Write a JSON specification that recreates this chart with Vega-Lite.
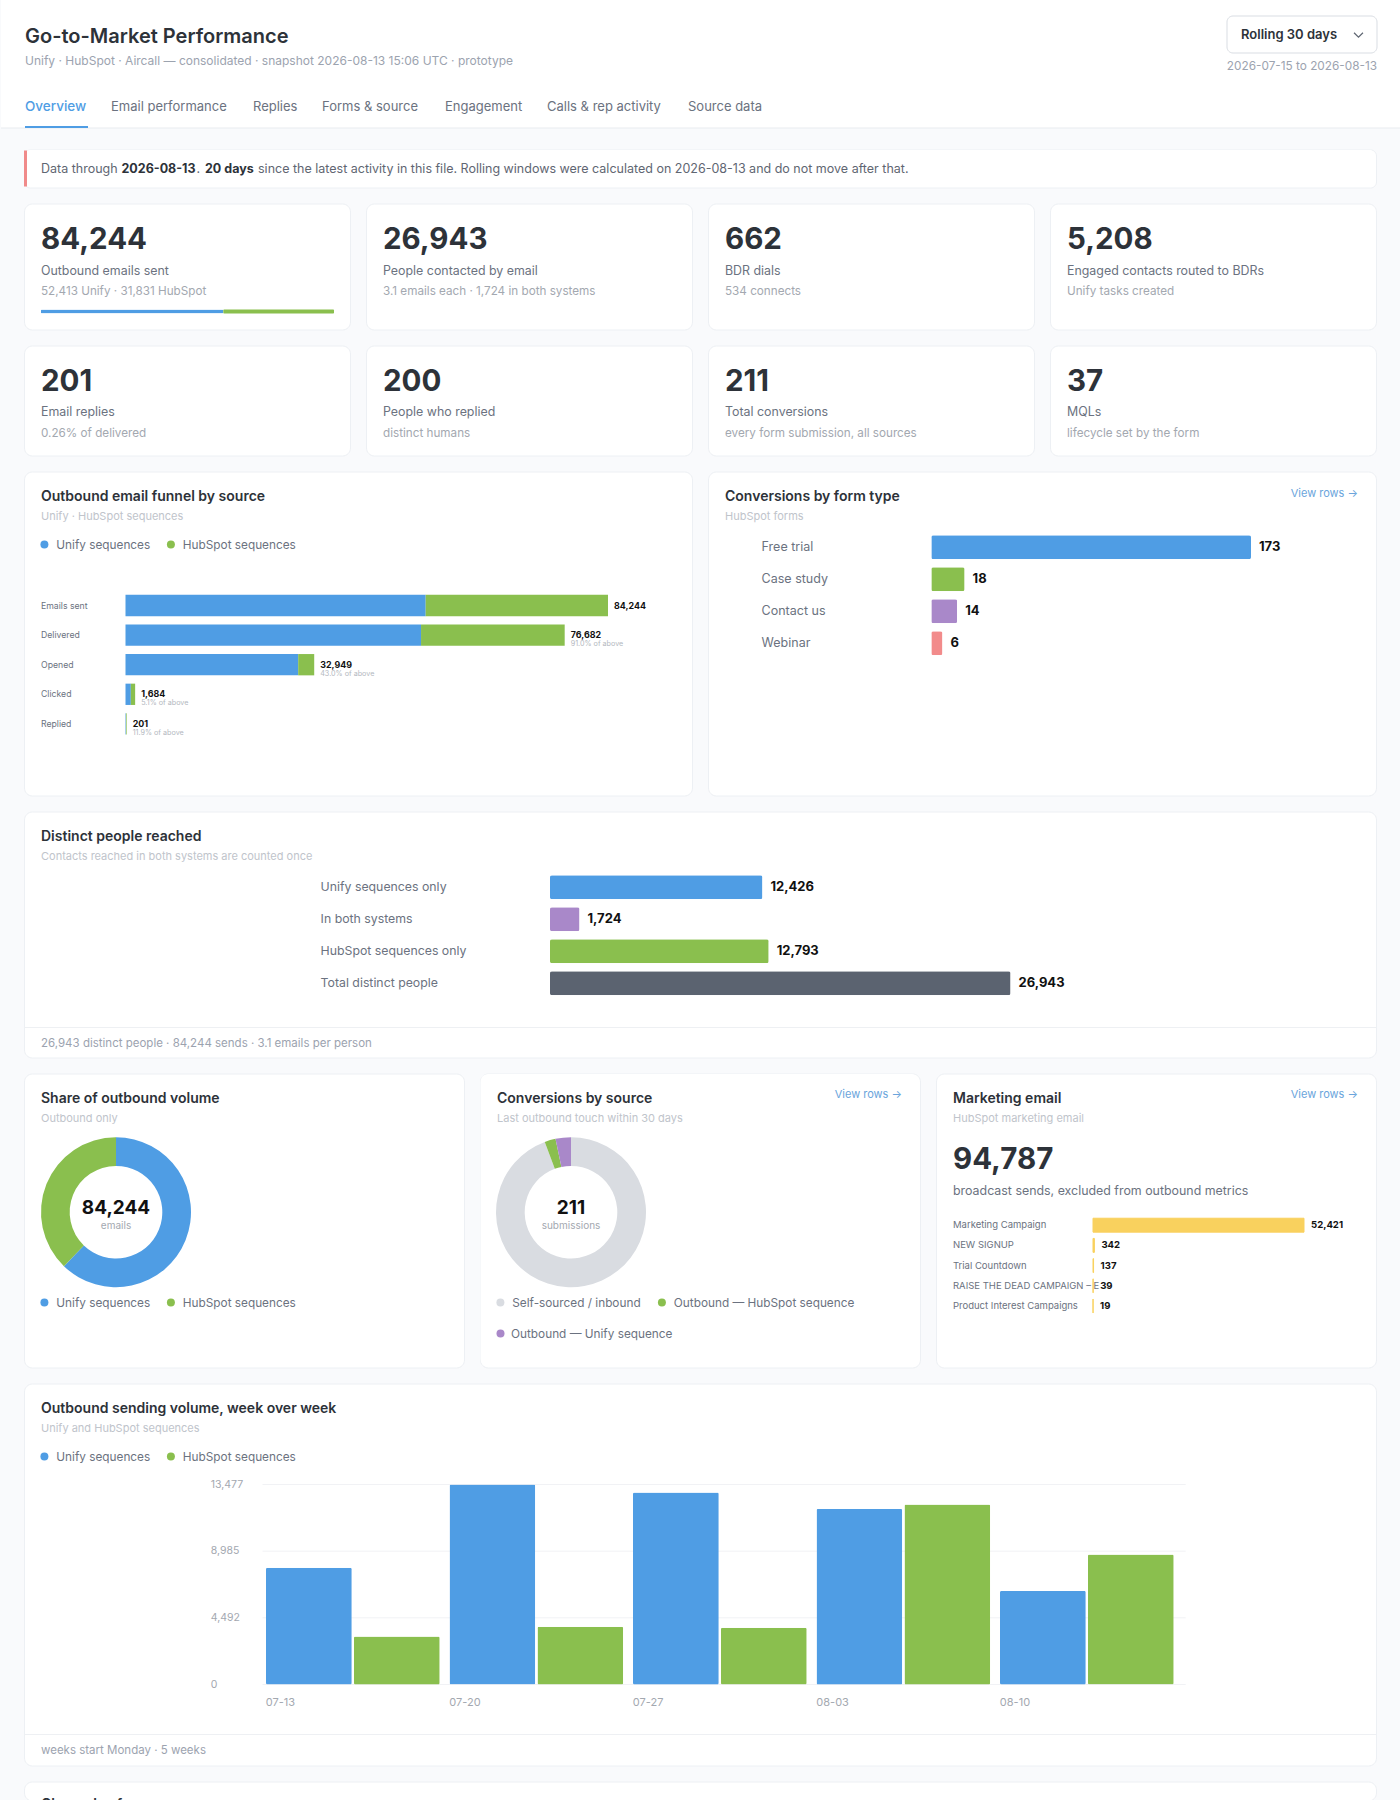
{
"$schema":"https://vega.github.io/schema/vega-lite/v6.json",
"padding":0,
"background":"#f9fafc",
"spacing":19.5,
"resolve":{"scale":{"color":"independent","theta":"independent"}},
"datasets":{
"kpi":[
{"metric":"Outbound emails sent","value":"84,244","note":"52,413 Unify · 31,831 HubSpot","unify":52413,"total":84244},
{"metric":"People contacted by email","value":"26,943","note":"3.1 emails each · 1,724 in both systems"},
{"metric":"BDR dials","value":"662","note":"534 connects"},
{"metric":"Engaged contacts routed to BDRs","value":"5,208","note":"Unify tasks created"},
{"metric":"Email replies","value":"201","note":"0.26% of delivered"},
{"metric":"People who replied","value":"200","note":"distinct humans"},
{"metric":"Total conversions","value":"211","note":"every form submission, all sources"},
{"metric":"MQLs","value":"37","note":"lifecycle set by the form"}],
"funnel":[
{"stage":"Emails sent","source":"Unify sequences","rank":1,"count":52413},
{"stage":"Emails sent","source":"HubSpot sequences","rank":2,"count":31831},
{"stage":"Delivered","source":"Unify sequences","rank":1,"count":51600},
{"stage":"Delivered","source":"HubSpot sequences","rank":2,"count":25082},
{"stage":"Opened","source":"Unify sequences","rank":1,"count":30150},
{"stage":"Opened","source":"HubSpot sequences","rank":2,"count":2799},
{"stage":"Clicked","source":"Unify sequences","rank":1,"count":930},
{"stage":"Clicked","source":"HubSpot sequences","rank":2,"count":754},
{"stage":"Replied","source":"Unify sequences","rank":1,"count":80},
{"stage":"Replied","source":"HubSpot sequences","rank":2,"count":121}],
"funnelTotals":[
{"stage":"Emails sent","total":84244,"note":""},
{"stage":"Delivered","total":76682,"note":"91.0% of above"},
{"stage":"Opened","total":32949,"note":"43.0% of above"},
{"stage":"Clicked","total":1684,"note":"5.1% of above"},
{"stage":"Replied","total":201,"note":"11.9% of above"}],
"forms":[{"form":"Free trial","count":173},{"form":"Case study","count":18},{"form":"Contact us","count":14},{"form":"Webinar","count":6}],
"people":[{"group":"Unify sequences only","count":12426},{"group":"In both systems","count":1724},{"group":"HubSpot sequences only","count":12793},{"group":"Total distinct people","count":26943}],
"share":[{"source":"Unify sequences","rank":1,"count":52413},{"source":"HubSpot sequences","rank":2,"count":31831}],
"bySource":[{"source":"Self-sourced / inbound","rank":1,"count":199},{"source":"Outbound — HubSpot sequence","rank":2,"count":5},{"source":"Outbound — Unify sequence","rank":3,"count":7}],
"marketing":[{"campaign":"Marketing Campaign","sends":52421},{"campaign":"NEW SIGNUP","sends":342},{"campaign":"Trial Countdown","sends":137},{"campaign":"RAISE THE DEAD CAMPAIGN – E","sends":39},{"campaign":"Product Interest Campaigns","sends":19}],
"weekly":[
{"week":"07-13","source":"Unify sequences","emails":7860},{"week":"07-13","source":"HubSpot sequences","emails":3235},
{"week":"07-20","source":"Unify sequences","emails":13477},{"week":"07-20","source":"HubSpot sequences","emails":3886},
{"week":"07-27","source":"Unify sequences","emails":12940},{"week":"07-27","source":"HubSpot sequences","emails":3819},
{"week":"08-03","source":"Unify sequences","emails":11830},{"week":"08-03","source":"HubSpot sequences","emails":12131},
{"week":"08-10","source":"Unify sequences","emails":6306},{"week":"08-10","source":"HubSpot sequences","emails":8760}],
"ticks":[{"tick":0},{"tick":4492},{"tick":8985},{"tick":13477}],
"one":[{"n":1}]
},
"vconcat":[
{"width":1400,"height":128,"view":{"fill":"#fff","stroke":null,"cornerRadius":0},
"title":{"text":"Go-to-Market Performance","subtitle":"Unify · HubSpot · Aircall — consolidated · snapshot 2026-08-13 15:06 UTC · prototype","dx":24,"offset":-67,"fontSize":20,"subtitleFontSize":12,"subtitleColor":"#9ca3af","subtitlePadding":9},
"layer":[
{"data":{"name":"one"},"mark":{"type":"rule","x":0,"x2":1400,"stroke":"#e8ebef"},"encoding":{"y":{"value":128}}},
{"data":{"name":"one"},"mark":{"type":"rule","x":24,"x2":87,"stroke":"#4f9de4","strokeWidth":2},"encoding":{"y":{"value":127}}},
{"data":{"values":[{"tab":"Overview"}]},"mark":{"type":"text","style":"tabOn","y":106.5},"encoding":{"x":{"datum":0,"type":"quantitative","scale":{"domain":[0,1],"range":[24,25],"nice":false},"axis":null},"text":{"field":"tab"}}},
{"data":{"values":[{"tab":"Email performance"}]},"mark":{"type":"text","style":"tab","x":110,"y":106.5},"encoding":{"text":{"field":"tab"}}},
{"data":{"values":[{"tab":"Replies"}]},"mark":{"type":"text","style":"tab","x":252,"y":106.5},"encoding":{"text":{"field":"tab"}}},
{"data":{"values":[{"tab":"Forms & source"}]},"mark":{"type":"text","style":"tab","x":321,"y":106.5},"encoding":{"text":{"field":"tab"}}},
{"data":{"values":[{"tab":"Engagement"}]},"mark":{"type":"text","style":"tab","x":444,"y":106.5},"encoding":{"text":{"field":"tab"}}},
{"data":{"values":[{"tab":"Calls & rep activity"}]},"mark":{"type":"text","style":"tab","x":546,"y":106.5},"encoding":{"text":{"field":"tab"}}},
{"data":{"values":[{"tab":"Source data"}]},"mark":{"type":"text","style":"tab","x":687,"y":106.5},"encoding":{"text":{"field":"tab"}}},
{"data":{"name":"one"},"mark":{"type":"rect","x":1226,"x2":1376,"y":16,"y2":53,"fill":"#fff","stroke":"#d9dde3","cornerRadius":6},"encoding":{}},
{"data":{"values":[{"t":"Rolling 30 days"}]},"mark":{"type":"text","x":1240,"y":35,"fontSize":13,"fontWeight":600,"fill":"#2d3239"},"encoding":{"text":{"field":"t"}}},
{"data":{"name":"one"},"mark":{"type":"point","shape":"M-1,-0.5L0,0.5L1,-0.5","filled":false,"opacity":1,"stroke":"#5f6672","strokeWidth":1.2,"size":80,"x":1357.5,"y":35},"encoding":{}},
{"data":{"values":[{"t":"2026-07-15 to 2026-08-13"}]},"mark":{"type":"text","x":1376,"y":66,"align":"right","fontSize":11.8,"fill":"#9ca3af"},"encoding":{"text":{"field":"t"}}}
]},
{"spacing":14,"resolve":{"scale":{"color":"independent","theta":"independent"}},"vconcat":[
{"spacing":14,"hconcat":[
{"width":8,"height":1,"view":{"fill":null,"stroke":null},"data":{"values":[]},"mark":"text"},
{"width":1352,"height":38,"view":{"cornerRadius":6},"layer":[
{"data":{"name":"one"},"mark":{"type":"rect","x":0.5,"x2":1351.5,"y":0.5,"y2":37.5,"fill":"#fff","cornerRadius":6},"encoding":{}},
{"data":{"name":"one"},"mark":{"type":"rule","y":1,"y2":37,"stroke":"#f08a8a","strokeWidth":3},"encoding":{"x":{"value":1.5}}},
{"data":{"values":[{"t":"Data through"}]},"mark":{"type":"text","style":"banner","y":19},"encoding":{"x":{"datum":0,"type":"quantitative","scale":{"domain":[0,1],"range":[17,18],"nice":false},"axis":null},"text":{"field":"t"}}},
{"data":{"values":[{"t":"2026-08-13"}]},"mark":{"type":"text","style":"bannerBold","x":97.5,"y":19},"encoding":{"text":{"field":"t"}}},
{"data":{"values":[{"t":"."}]},"mark":{"type":"text","style":"banner","x":172.5,"y":19},"encoding":{"text":{"field":"t"}}},
{"data":{"values":[{"t":"20 days"}]},"mark":{"type":"text","style":"bannerBold","x":181,"y":19},"encoding":{"text":{"field":"t"}}},
{"data":{"values":[{"t":"since the latest activity in this file. Rolling windows were calculated on 2026-08-13 and do not move after that."}]},"mark":{"type":"text","style":"banner","x":234,"y":19},"encoding":{"text":{"field":"t"}}}
]}
]},
{"spacing":14,"hconcat":[
{"width":8,"height":1,"view":{"fill":null,"stroke":null},"data":{"values":[]},"mark":"text"},
{"width":326,"height":126,"data":{"name":"kpi"},"transform":[{"filter":"datum.metric==='Outbound emails sent'"}],"layer":[
{"mark":{"type":"text","style":"kpiValue","x":17,"y":36},"encoding":{"text":{"field":"value"}}},
{"mark":{"type":"text","style":"kpiLabel","x":17,"y":67},"encoding":{"text":{"field":"metric"}}},
{"mark":{"type":"text","style":"kpiNote","x":17,"y":87},"encoding":{"text":{"field":"note"}}},
{"mark":{"type":"bar","fill":"#4f9de4","cornerRadius":1},"encoding":{"x":{"field":"unify","type":"quantitative","scale":{"domain":[0,84244],"range":[17,310],"nice":false},"axis":null},"y":{"value":108},"size":{"value":4}}},
{"mark":{"type":"bar","fill":"#8abf4e","cornerRadius":1},"encoding":{"x":{"field":"unify","type":"quantitative","axis":null},"x2":{"field":"total"},"y":{"value":108},"size":{"value":4}}}
]},
{"width":326,"height":126,"data":{"name":"kpi"},"transform":[{"filter":"datum.metric==='People contacted by email'"}],"encoding":{"x":{"datum":0,"type":"quantitative","scale":{"domain":[0,1],"range":[17,18],"nice":false},"axis":null}},"layer":[
{"mark":{"type":"text","style":"kpiValue","y":36},"encoding":{"text":{"field":"value"}}},
{"mark":{"type":"text","style":"kpiLabel","y":67},"encoding":{"text":{"field":"metric"}}},
{"mark":{"type":"text","style":"kpiNote","y":87},"encoding":{"text":{"field":"note"}}}
]},
{"width":326,"height":126,"data":{"name":"kpi"},"transform":[{"filter":"datum.metric==='BDR dials'"}],"encoding":{"x":{"datum":0,"type":"quantitative","scale":{"domain":[0,1],"range":[17,18],"nice":false},"axis":null}},"layer":[
{"mark":{"type":"text","style":"kpiValue","y":36},"encoding":{"text":{"field":"value"}}},
{"mark":{"type":"text","style":"kpiLabel","y":67},"encoding":{"text":{"field":"metric"}}},
{"mark":{"type":"text","style":"kpiNote","y":87},"encoding":{"text":{"field":"note"}}}
]},
{"width":326,"height":126,"data":{"name":"kpi"},"transform":[{"filter":"datum.metric==='Engaged contacts routed to BDRs'"}],"encoding":{"x":{"datum":0,"type":"quantitative","scale":{"domain":[0,1],"range":[17,18],"nice":false},"axis":null}},"layer":[
{"mark":{"type":"text","style":"kpiValue","y":36},"encoding":{"text":{"field":"value"}}},
{"mark":{"type":"text","style":"kpiLabel","y":67},"encoding":{"text":{"field":"metric"}}},
{"mark":{"type":"text","style":"kpiNote","y":87},"encoding":{"text":{"field":"note"}}}
]}
]},
{"spacing":14,"hconcat":[
{"width":8,"height":1,"view":{"fill":null,"stroke":null},"data":{"values":[]},"mark":"text"},
{"width":326,"height":110,"data":{"name":"kpi"},"transform":[{"filter":"datum.metric==='Email replies'"}],"encoding":{"x":{"datum":0,"type":"quantitative","scale":{"domain":[0,1],"range":[17,18],"nice":false},"axis":null}},"layer":[
{"mark":{"type":"text","style":"kpiValue","y":36.5},"encoding":{"text":{"field":"value"}}},
{"mark":{"type":"text","style":"kpiLabel","y":66},"encoding":{"text":{"field":"metric"}}},
{"mark":{"type":"text","style":"kpiNote","y":87},"encoding":{"text":{"field":"note"}}}
]},
{"width":326,"height":110,"data":{"name":"kpi"},"transform":[{"filter":"datum.metric==='People who replied'"}],"encoding":{"x":{"datum":0,"type":"quantitative","scale":{"domain":[0,1],"range":[17,18],"nice":false},"axis":null}},"layer":[
{"mark":{"type":"text","style":"kpiValue","y":36.5},"encoding":{"text":{"field":"value"}}},
{"mark":{"type":"text","style":"kpiLabel","y":66},"encoding":{"text":{"field":"metric"}}},
{"mark":{"type":"text","style":"kpiNote","y":87},"encoding":{"text":{"field":"note"}}}
]},
{"width":326,"height":110,"data":{"name":"kpi"},"transform":[{"filter":"datum.metric==='Total conversions'"}],"encoding":{"x":{"datum":0,"type":"quantitative","scale":{"domain":[0,1],"range":[17,18],"nice":false},"axis":null}},"layer":[
{"mark":{"type":"text","style":"kpiValue","y":36.5},"encoding":{"text":{"field":"value"}}},
{"mark":{"type":"text","style":"kpiLabel","y":66},"encoding":{"text":{"field":"metric"}}},
{"mark":{"type":"text","style":"kpiNote","y":87},"encoding":{"text":{"field":"note"}}}
]},
{"width":326,"height":110,"data":{"name":"kpi"},"transform":[{"filter":"datum.metric==='MQLs'"}],"encoding":{"x":{"datum":0,"type":"quantitative","scale":{"domain":[0,1],"range":[17,18],"nice":false},"axis":null}},"layer":[
{"mark":{"type":"text","style":"kpiValue","y":36.5},"encoding":{"text":{"field":"value"}}},
{"mark":{"type":"text","style":"kpiLabel","y":66},"encoding":{"text":{"field":"metric"}}},
{"mark":{"type":"text","style":"kpiNote","y":87},"encoding":{"text":{"field":"note"}}}
]}
]},
{"spacing":14,"resolve":{"scale":{"color":"independent"}},"hconcat":[
{"width":8,"height":1,"view":{"fill":null,"stroke":null},"data":{"values":[]},"mark":"text"},
{"width":668,"height":324,"title":{"text":"Outbound email funnel by source","subtitle":"Unify · HubSpot sequences"},
"encoding":{"y":{"field":"stage","type":"nominal","sort":null,"scale":{"domain":["Emails sent","Delivered","Opened","Clicked","Replied"],"range":[119.2,267.2],"paddingInner":0.28,"paddingOuter":0.14},"axis":null}},
"layer":[
{"data":{"name":"funnel"},"mark":{"type":"bar"},"encoding":{
"x":{"field":"count","type":"quantitative","stack":"zero","scale":{"domain":[0,84244],"range":[101.5,584],"nice":false},"axis":null},
"order":{"field":"rank"},
"color":{"field":"source","type":"nominal","scale":{"domain":["Unify sequences","HubSpot sequences"],"range":["#4f9de4","#8abf4e"]},"legend":{"orient":"none","legendX":14.5,"legendY":67,"direction":"horizontal","title":null}}}},
{"data":{"name":"funnelTotals"},"mark":{"type":"text","x":17,"fontSize":8.7,"fill":"#6b7280"},"encoding":{"text":{"field":"stage"}}},
{"data":{"name":"funnelTotals"},"mark":{"type":"text","dx":6,"fontSize":8.9,"fontWeight":700,"fill":"#111"},"encoding":{"x":{"field":"total","type":"quantitative"},"text":{"field":"total","type":"quantitative","format":","}}},
{"data":{"name":"funnelTotals"},"mark":{"type":"text","dx":6,"dy":9,"fontSize":7.2,"fill":"#b3b8c0"},"encoding":{"x":{"field":"total","type":"quantitative"},"text":{"field":"note"}}}
]},
{"width":668,"height":324,"title":{"text":"Conversions by form type","subtitle":"HubSpot forms"},
"encoding":{"y":{"field":"form","type":"nominal","sort":null,"scale":{"domain":["Free trial","Case study","Contact us","Webinar"],"range":[59.7,187.7],"paddingInner":0.25,"paddingOuter":0.125},"axis":null}},
"layer":[
{"data":{"name":"forms"},"mark":{"type":"bar","cornerRadius":2},"encoding":{
"x":{"field":"count","type":"quantitative","scale":{"domain":[0,173],"range":[223.3,543],"nice":false},"axis":null},
"color":{"field":"form","type":"nominal","sort":null,"scale":{"domain":["Free trial","Case study","Contact us","Webinar"],"range":["#4f9de4","#8abf4e","#a988c9","#f28b8b"]},"legend":null}}},
{"data":{"name":"forms"},"mark":{"type":"text","x":53.6,"style":"rowLabel"},"encoding":{"text":{"field":"form"}}},
{"data":{"name":"forms"},"mark":{"type":"text","style":"rowValue","dx":8},"encoding":{"x":{"field":"count","type":"quantitative"},"text":{"field":"count","type":"quantitative"}}},
{"data":{"values":[{"t":"View rows →"}]},"mark":{"type":"text","style":"viewRows","x":650},"encoding":{"text":{"field":"t"},"y":{"value":22.5}}}
]}
]},
{"spacing":14,"resolve":{"scale":{"color":"independent"}},"hconcat":[
{"width":8,"height":1,"view":{"fill":null,"stroke":null},"data":{"values":[]},"mark":"text"},
{"width":1352,"height":246,"title":{"text":"Distinct people reached","subtitle":"Contacts reached in both systems are counted once"},
"encoding":{"y":{"field":"group","type":"nominal","sort":null,"scale":{"domain":["Unify sequences only","In both systems","HubSpot sequences only","Total distinct people"],"range":[59.7,187.7],"paddingInner":0.25,"paddingOuter":0.125},"axis":null}},
"layer":[
{"data":{"name":"people"},"mark":{"type":"bar","cornerRadius":2},"encoding":{
"x":{"field":"count","type":"quantitative","scale":{"domain":[0,26943],"range":[526,986.5],"nice":false},"axis":null},
"color":{"field":"group","type":"nominal","sort":null,"scale":{"domain":["Unify sequences only","In both systems","HubSpot sequences only","Total distinct people"],"range":["#4f9de4","#a988c9","#8abf4e","#5b6370"]},"legend":null}}},
{"data":{"name":"people"},"mark":{"type":"text","x":296.6,"fontSize":12.3,"fill":"#6b7280"},"encoding":{"text":{"field":"group"}}},
{"data":{"name":"people"},"mark":{"type":"text","style":"rowValue","dx":8},"encoding":{"x":{"field":"count","type":"quantitative"},"text":{"field":"count","type":"quantitative","format":","}}},
{"data":{"name":"one"},"mark":{"type":"rule","x":0,"x2":1352,"stroke":"#eef0f3"},"encoding":{"y":{"value":216}}},
{"data":{"values":[{"t":"26,943 distinct people · 84,244 sends · 3.1 emails per person"}]},"mark":{"type":"text","style":"footer","x":17},"encoding":{"text":{"field":"t"},"y":{"value":232.5}}}
]}
]},
{"spacing":14,"resolve":{"scale":{"color":"independent","theta":"independent"}},"hconcat":[
{"width":8,"height":1,"view":{"fill":null,"stroke":null},"data":{"values":[]},"mark":"text"},
{"width":440,"height":294,"title":{"text":"Share of outbound volume","subtitle":"Outbound only"},
"layer":[
{"data":{"name":"share"},"mark":{"type":"arc","innerRadius":46.3,"outerRadius":75},"encoding":{
"x":{"value":92},"y":{"value":138.7},
"theta":{"field":"count","type":"quantitative","stack":true},
"order":{"field":"rank"},
"color":{"field":"source","type":"nominal","scale":{"domain":["Unify sequences","HubSpot sequences"],"range":["#4f9de4","#8abf4e"]},"legend":{"orient":"none","legendX":14.5,"legendY":223,"direction":"horizontal","title":null}}}},
{"data":{"values":[{"big":"84,244","small":"emails"}]},"mark":{"type":"text","style":"donutBig","y":134},"encoding":{"x":{"datum":0,"type":"quantitative","scale":{"domain":[0,1],"range":[92,93],"nice":false},"axis":null},"text":{"field":"big"}}},
{"data":{"values":[{"big":"84,244","small":"emails"}]},"mark":{"type":"text","style":"donutSmall","y":152.7},"encoding":{"x":{"datum":0,"type":"quantitative"},"text":{"field":"small"}}}
]},
{"width":440,"height":294,"title":{"text":"Conversions by source","subtitle":"Last outbound touch within 30 days"},
"layer":[
{"data":{"name":"one"},"mark":{"type":"rect","x":0.5,"x2":439.5,"y":0.5,"y2":293.5,"fill":"#fff","cornerRadius":8},"encoding":{}},
{"data":{"name":"bySource"},"mark":{"type":"arc","innerRadius":46.3,"outerRadius":75},"encoding":{
"x":{"value":91},"y":{"value":138.7},
"theta":{"field":"count","type":"quantitative","stack":true},
"order":{"field":"rank"},
"color":{"field":"source","type":"nominal","scale":{"domain":["Self-sourced / inbound","Outbound — HubSpot sequence","Outbound — Unify sequence"],"range":["#d9dce1","#8abf4e","#a988c9"]},"legend":{"orient":"none","legendX":14.5,"legendY":223,"direction":"horizontal","values":["Self-sourced / inbound","Outbound — HubSpot sequence"],"title":null}}}},
{"data":{"values":[{"big":"211","small":"submissions"}]},"mark":{"type":"text","style":"donutBig","y":134},"encoding":{"x":{"datum":0,"type":"quantitative","scale":{"domain":[0,1],"range":[91,92],"nice":false},"axis":null},"text":{"field":"big"}}},
{"data":{"values":[{"big":"211","small":"submissions"}]},"mark":{"type":"text","style":"donutSmall","y":152.7},"encoding":{"x":{"datum":0,"type":"quantitative"},"text":{"field":"small"}}},
{"data":{"values":[{"t":"View rows →"}]},"mark":{"type":"text","style":"viewRows","x":422,"y":21.5},"encoding":{"text":{"field":"t"}}},
{"data":{"name":"bySource"},"transform":[{"filter":"datum.rank===3"}],"mark":{"type":"point","filled":true,"opacity":1,"size":64,"fill":"#a988c9","x":20.5,"y":260},"encoding":{}},
{"data":{"name":"bySource"},"transform":[{"filter":"datum.rank===3"}],"mark":{"type":"text","x":31,"y":260,"fontSize":11.8,"fill":"#6b7280"},"encoding":{"text":{"field":"source"}}}
]},
{"width":440,"height":294,"title":{"text":"Marketing email","subtitle":"HubSpot marketing email"},
"encoding":{"y":{"field":"campaign","type":"nominal","sort":null,"scale":{"domain":["Marketing Campaign","NEW SIGNUP","Trial Countdown","RAISE THE DEAD CAMPAIGN – E","Product Interest Campaigns"],"range":[141.6,242.6],"paddingInner":0.31,"paddingOuter":0.155},"axis":null}},
"layer":[
{"data":{"values":[{"t":"View rows →","v":"94,787","s":"broadcast sends, excluded from outbound metrics"}]},"mark":{"type":"text","style":"viewRows","x":422},"encoding":{"text":{"field":"t"},"y":{"value":21.5}}},
{"data":{"values":[{"t":"View rows →","v":"94,787","s":"broadcast sends, excluded from outbound metrics"}]},"mark":{"type":"text","style":"kpiValue","x":17},"encoding":{"text":{"field":"v"},"y":{"value":86}}},
{"data":{"values":[{"t":"View rows →","v":"94,787","s":"broadcast sends, excluded from outbound metrics"}]},"mark":{"type":"text","style":"kpiLabel","x":17},"encoding":{"text":{"field":"s"},"y":{"value":117}}},
{"data":{"name":"marketing"},"mark":{"type":"bar","fill":"#f9d15e","stroke":"#f9d15e","strokeWidth":1},"encoding":{"x":{"field":"sends","type":"quantitative","scale":{"domain":[0,52421],"range":[157,368],"nice":false},"axis":null}}},
{"data":{"name":"marketing"},"mark":{"type":"text","x":17,"fontSize":9.5,"fill":"#6b7280"},"encoding":{"text":{"field":"campaign"}}},
{"data":{"name":"marketing"},"mark":{"type":"text","dx":7,"fontSize":9.6,"fontWeight":700,"fill":"#111"},"encoding":{"x":{"field":"sends","type":"quantitative"},"text":{"field":"sends","type":"quantitative","format":","}}}
]}
]},
{"spacing":14,"resolve":{"scale":{"color":"independent"}},"hconcat":[
{"width":8,"height":1,"view":{"fill":null,"stroke":null},"data":{"values":[]},"mark":"text"},
{"width":1352,"height":382,"title":{"text":"Outbound sending volume, week over week","subtitle":"Unify and HubSpot sequences"},
"layer":[
{"data":{"name":"ticks"},"mark":{"type":"rule","x":238.5,"x2":1161.7,"stroke":"#f1f2f5"},"encoding":{"y":{"field":"tick","type":"quantitative","scale":{"domain":[0,13477],"range":[301,101],"nice":false},"axis":null}}},
{"data":{"name":"ticks"},"mark":{"type":"text","x":186.7,"fontSize":10.5,"fill":"#a3a8b0"},"encoding":{"y":{"field":"tick","type":"quantitative"},"text":{"field":"tick","type":"quantitative","format":","}}},
{"data":{"name":"weekly"},"mark":{"type":"bar","cornerRadius":1.5},"encoding":{
"x":{"field":"week","type":"nominal","sort":null,"scale":{"domain":["07-13","07-20","07-27","08-03","08-10"],"range":[242,1149.7],"paddingInner":0.0534,"paddingOuter":0},"axis":{"labelAlign":"left","labelOffset":-87,"labelAngle":0,"domain":false,"ticks":false,"tickSize":0,"grid":false,"title":null,"offset":-81,"labelPadding":12,"labelFontSize":11,"labelColor":"#a3a8b0"}},
"xOffset":{"field":"source","type":"nominal","sort":["Unify sequences","HubSpot sequences"],"scale":{"domain":["Unify sequences","HubSpot sequences"],"paddingInner":0.025,"paddingOuter":0}},
"y":{"field":"emails","type":"quantitative"},
"color":{"field":"source","type":"nominal","scale":{"domain":["Unify sequences","HubSpot sequences"],"range":["#4f9de4","#8abf4e"]},"legend":{"orient":"none","legendX":14.5,"legendY":67,"direction":"horizontal","title":null}}}},
{"data":{"name":"one"},"mark":{"type":"rule","x":0,"x2":1352,"stroke":"#eef0f3"},"encoding":{"y":{"value":351}}},
{"data":{"values":[{"t":"weeks start Monday · 5 weeks"}]},"mark":{"type":"text","style":"footer","x":17},"encoding":{"text":{"field":"t"},"y":{"value":367.5}}}
]}
]},
{"spacing":14,"hconcat":[
{"width":8,"height":1,"view":{"fill":null,"stroke":null},"data":{"values":[]},"mark":"text"},
{"width":1352,"height":19,"data":{"values":[{"t":"Channels of"}]},"mark":{"type":"text","y":23,"clip":true,"fontSize":14,"fontWeight":600,"fill":"#2d3239"},"encoding":{"x":{"datum":0,"type":"quantitative","scale":{"domain":[0,1],"range":[17,18],"nice":false},"axis":null},"text":{"field":"t"}}}
]}
]}
],
"config":{
"font":"Inter",
"view":{"fill":"#fff","stroke":"#edf0f4","cornerRadius":8},
"title":{"anchor":"start","frame":"group","dx":17,"offset":-50,"fontSize":14,"fontWeight":600,"color":"#2d3239","subtitleFontSize":11,"subtitleColor":"#c0c4cb","subtitleFontWeight":400,"subtitlePadding":7},
"text":{"align":"left","baseline":"middle"},
"legend":{"symbolType":"circle","symbolSize":64,"labelFontSize":11.8,"labelColor":"#6b7280","labelLimit":300,"columnPadding":14.5,"labelOffset":6,"padding":0},
"style":{
"tab":{"fontSize":13,"color":"#6b7280"},
"tabOn":{"fontSize":13.5,"fontWeight":500,"color":"#4f9de4"},
"banner":{"fontSize":12.5,"color":"#5f6672"},
"bannerBold":{"fontSize":12.5,"fontWeight":700,"color":"#2d3239"},
"kpiValue":{"fontSize":29.5,"fontWeight":700,"color":"#2d3239"},
"kpiLabel":{"fontSize":12.4,"color":"#6b7280"},
"kpiNote":{"fontSize":11.7,"color":"#a3a8b0"},
"rowLabel":{"fontSize":12.5,"color":"#6b7280"},
"rowValue":{"fontSize":13,"fontWeight":700,"color":"#111"},
"viewRows":{"fontSize":11,"color":"#6aa5dc","align":"right"},
"footer":{"fontSize":11.5,"color":"#9ca3af"},
"donutBig":{"fontSize":19,"fontWeight":700,"color":"#111","align":"center"},
"donutSmall":{"fontSize":10,"color":"#a3a8b0","align":"center"}
}
}
}
